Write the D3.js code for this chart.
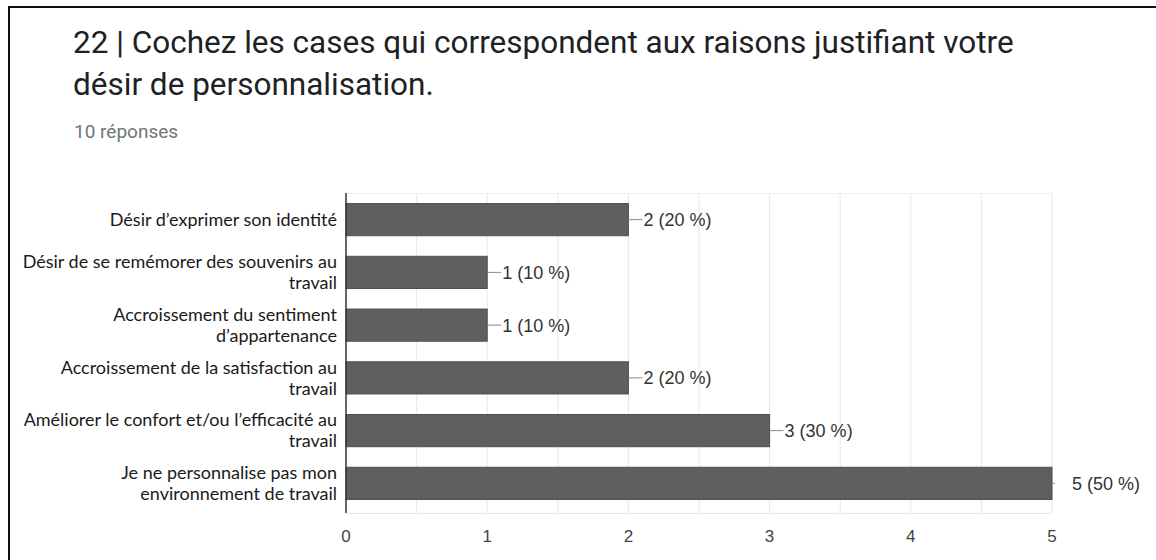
<!DOCTYPE html>
<html><head><meta charset="utf-8">
<script src="https://cdn.jsdelivr.net/npm/d3@7"></script>
<style>
html,body{margin:0;padding:0;background:#fff;}
svg{display:block;}
</style></head>
<body>
<svg id="c" width="1156" height="560"></svg>
<script>
const titleLines = ["22 | Cochez les cases qui correspondent aux raisons justifiant votre", "désir de personnalisation."];
const subtitle = "10 réponses";
const categories = [
  "Désir d’exprimer son identité",
  "Désir de se remémorer des souvenirs au\ntravail",
  "Accroissement du sentiment\nd’appartenance",
  "Accroissement de la satisfaction au\ntravail",
  "Améliorer le confort et/ou l’efficacité au\ntravail",
  "Je ne personnalise pas mon\nenvironnement de travail"
];
const counts = [2, 1, 1, 2, 3, 5];
const percents = [20, 10, 10, 20, 30, 50];
const xTicks = [0, 1, 2, 3, 4, 5];

const svg = d3.select("#c");

// frame
svg.append("path").attr("d","M9,560 V7 H1156").attr("fill","none").attr("stroke","#111").attr("stroke-width",2);

// title
svg.append("g").selectAll("text").data(titleLines).join("text")
  .attr("x",73).attr("y",(d,i)=>53+i*42)
  .attr("font-family","Roboto").attr("font-size",31.5).attr("fill","#202124")
  .text(d=>d);
svg.append("text").attr("x",74).attr("y",138).attr("font-family","Roboto")
  .attr("font-size",19).attr("fill","#70757a").text(subtitle);

const L=346, R=1052, T=193, B=513;
const x = d3.scaleLinear().domain([0,5]).range([L,R]);
const y = d3.scaleBand().domain(categories).range([T,B-3]).paddingInner(0.39).paddingOuter(0.2);

// grid
const gridVals = d3.range(0.5, 5.01, 0.5);
svg.append("g").selectAll("line").data(gridVals).join("line")
  .attr("x1",d=>x(d)).attr("x2",d=>x(d)).attr("y1",T).attr("y2",B)
  .attr("stroke","#e8e8e8").attr("stroke-width",1);
svg.append("line").attr("x1",L).attr("x2",R).attr("y1",T+0.5).attr("y2",T+0.5).attr("stroke","#efefef");
svg.append("line").attr("x1",L).attr("x2",R).attr("y1",B+0.5).attr("y2",B+0.5).attr("stroke","#e8e8e8");

// bars
svg.append("g").selectAll("rect").data(categories).join("rect")
  .attr("x",x(0)).attr("y",d=>y(d))
  .attr("width",(d,i)=>x(counts[i])-x(0)).attr("height",y.bandwidth())
  .attr("fill","#5f5f5f").attr("stroke","#4e4e4e").attr("stroke-width",1);

// value labels
const vl = svg.append("g");
categories.forEach((c,i)=>{
  const xe = x(counts[i]);
  const cy = y(c)+y.bandwidth()/2;
  const last = counts[i]===d3.max(counts);
  vl.append("line").attr("x1",xe).attr("x2",xe+(last?3:14)).attr("y1",cy).attr("y2",cy)
    .attr("stroke","#8a8a8a").attr("stroke-width",1);
  vl.append("text").attr("x",xe+(last?20:15)).attr("y",cy).attr("dy","0.36em")
    .attr("font-family","Liberation Sans, Arial").attr("font-size",18).attr("fill","#333")
    .text(`${counts[i]} (${percents[i]} %)`);
});

// left axis line
svg.append("line").attr("x1",L).attr("x2",L).attr("y1",T).attr("y2",B)
  .attr("stroke","#333").attr("stroke-width",1.5);

// category labels
const cl = svg.append("g");
categories.forEach(c=>{
  const lines = c.split("\n");
  const cy = y(c)+y.bandwidth()/2;
  const lh = 21;
  const t = cl.append("text").attr("text-anchor","end")
    .attr("font-family","Lato").attr("font-size",18).attr("fill","#1a1a1a");
  lines.forEach((ln,j)=>{
    t.append("tspan").attr("x",337).attr("y",cy+(j-(lines.length-1)/2)*lh).attr("dy","0.35em").text(ln);
  });
});

// x axis tick labels
svg.append("g").selectAll("text").data(xTicks).join("text")
  .attr("x",d=>x(d)).attr("y",536).attr("dy","0.35em").attr("text-anchor","middle")
  .attr("font-family","Liberation Sans, Arial").attr("font-size",17).attr("fill","#444")
  .text(d=>d);
</script>
</body></html>
